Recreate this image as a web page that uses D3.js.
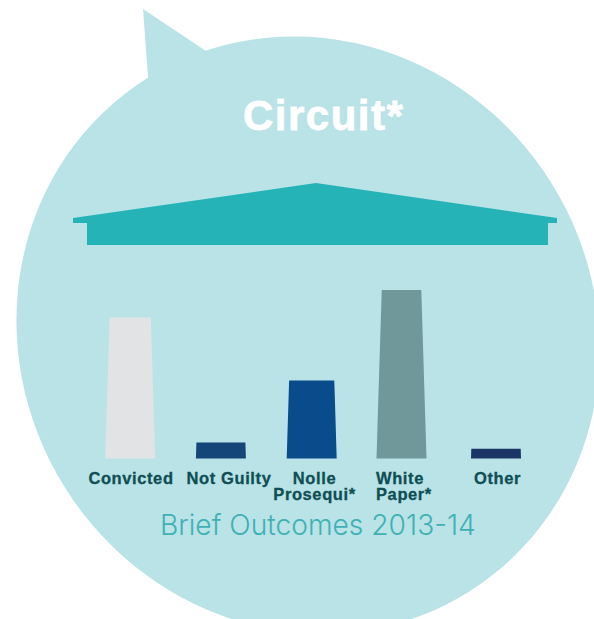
<!DOCTYPE html>
<html>
<head>
<meta charset="utf-8">
<script src="https://cdn.jsdelivr.net/npm/d3@7"></script>
<style>
  html, body { margin: 0; padding: 0; background: #fff; }
  svg { display: block; }
  text { font-family: "Liberation Sans", Arial, sans-serif; }
</style>
</head>
<body>
<div id="chart"></div>
<script>
// Brief outcomes, as a share of all briefs (percent, estimated)
const categories = ["Convicted", "Not Guilty", "Nolle Prosequi*", "White Paper*", "Other"];
const shares = [34.3, 3.9, 19, 41, 2.4];
const barColors = ["#e1e3e5", "#154679", "#0a4b8c", "#70979a", "#1a3566"];
const labelLines = [["Convicted"], ["Not Guilty"], ["Nolle", "Prosequi*"], ["White", "Paper*"], ["Other"]];
const chartTitle = "Circuit*";
const chartSubtitle = "Brief Outcomes 2013-14";

const width = 594, height = 619;
const svg = d3.select("#chart").append("svg")
  .attr("width", width).attr("height", height);

// Speech bubble behind the chart: a slightly tilted oval body plus its tail
const bubble = "#b9e3e6";
svg.append("ellipse")
  .attr("rx", 303).attr("ry", 287)
  .attr("transform", "translate(308,335) rotate(58)")
  .attr("fill", bubble);
svg.append("path").attr("d", "M143,9L209,53L220,90L149,90Z").attr("fill", bubble);

// Courthouse roof
svg.append("path")
  .attr("d", "M73,218L316,183L557,218L557,223L548,223L548,245L87,245L87,223L73,223Z")
  .attr("fill", "#25b3b7");

svg.append("text")
  .attr("x", 243).attr("y", 130)
  .attr("font-size", 42).attr("font-weight", 700)
  .attr("letter-spacing", 1.5)
  .attr("fill", "#ffffff").attr("stroke", "#ffffff").attr("stroke-width", 0.8)
  .text(chartTitle);

// Scales
const x = d3.scaleOrdinal().domain(categories).range([130.2, 220.9, 311.7, 401.5, 496]);
const y = d3.scaleLinear().domain([0, 41]).range([458.5, 290]);

// Columns taper toward the top, in proportion to their height
const halfBase = 25;
const taper = 0.031;
svg.append("g").selectAll("path")
  .data(categories)
  .join("path")
  .attr("d", (c, i) => {
    const cx = x(c), top = y(shares[i]), base = y(0);
    const inset = (base - top) * taper;
    return d3.line()([
      [cx - halfBase, base], [cx + halfBase, base],
      [cx + halfBase - inset, top], [cx - halfBase + inset, top]
    ]) + "Z";
  })
  .attr("fill", (c, i) => barColors[i]);

// Category labels
const labelAnchors = ["middle", "middle", "middle", "start", "middle"];
const labelX = [131, 229, 314.5, 376, 497.5];
const labels = svg.append("g").selectAll("text")
  .data(labelLines)
  .join("text")
  .attr("font-size", 16.5).attr("font-weight", 700)
  .attr("letter-spacing", 0.6)
  .attr("fill", "#0f4e55").attr("stroke", "#0f4e55").attr("stroke-width", 0.3)
  .attr("text-anchor", (d, i) => labelAnchors[i])
  .attr("y", 484);
labels.selectAll("tspan")
  .data((d, i) => d.map(t => ({ t, i })))
  .join("tspan")
  .attr("x", d => labelX[d.i])
  .attr("dy", (d, j) => j ? 16 : 0)
  .text(d => d.t);

svg.append("text")
  .attr("x", 160).attr("y", 535)
  .style("font-family", "Inter, 'Liberation Sans', sans-serif")
  .attr("font-size", 28.2).attr("font-weight", 300)
  .attr("fill", "#3fb1b5")
  .text(chartSubtitle);
</script>
</body>
</html>
